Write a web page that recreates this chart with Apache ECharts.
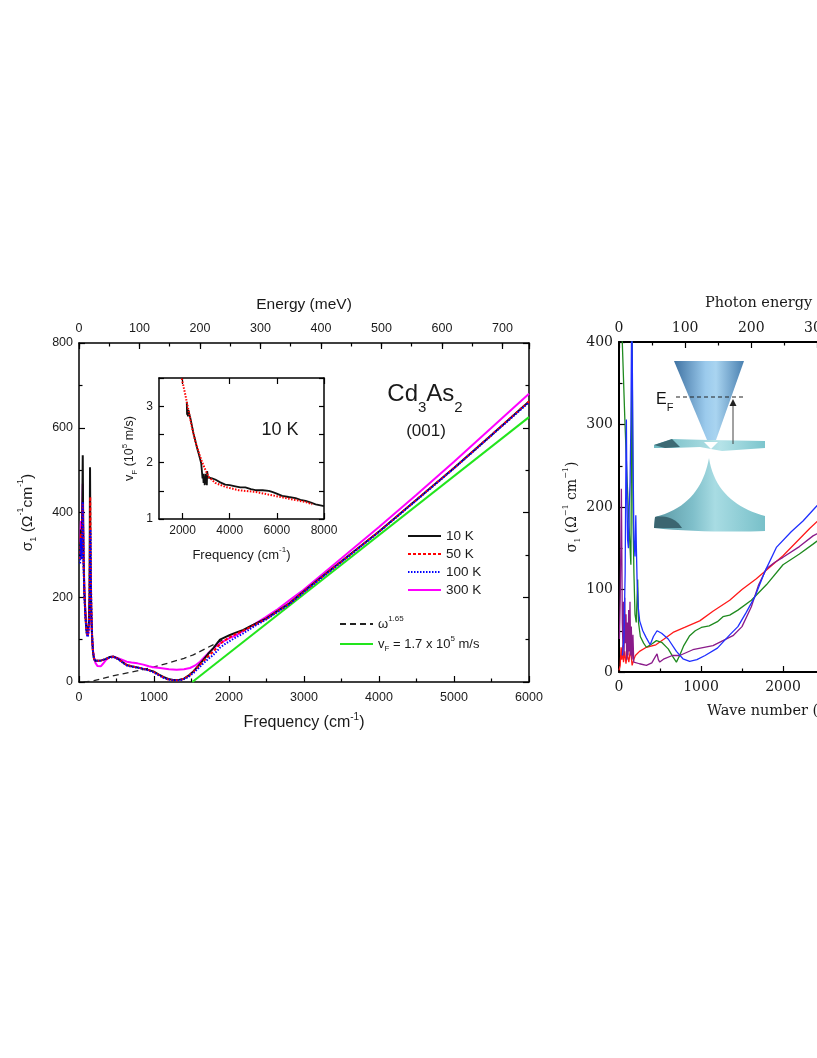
<!DOCTYPE html>
<html><head><meta charset="utf-8">
<script src="https://cdn.jsdelivr.net/npm/echarts@6/dist/echarts.min.js"></script>
<style>html,body{margin:0;padding:0;background:#fff}#c{width:817px;height:1058px}</style>
</head><body><div id="c"></div>
<script>
// ---------- Main panel: sigma_1 vs frequency (cm^-1) ----------
const t10K = [[15,300],[25,360],[35,310],[45,430],[50,535],[54,420],[60,300],[70,220],[80,180],[92,140],[105,112],[118,110],[130,135],[140,200],[147,507],[152,330],[158,220],[166,150],[176,100],[188,68],[200,55],[215,50],[250,50],[300,51],[350,54],[413,59],[460,60],[520,55],[580,47],[636,40],[700,37],[780,34],[858,31],[930,28],[991,25],[1060,18],[1124,12],[1190,7],[1258,5],[1330,5],[1391,7],[1460,15],[1524,25],[1590,38],[1658,52],[1720,66],[1791,80],[1840,91],[1880,100],[1950,106],[2013,111],[2100,117],[2191,123],[2280,131],[2369,139],[2500,150],[2636,166],[2800,185],[2991,213],[3200,243],[3500,285],[4000,355],[4500,430],[5000,505],[5500,583],[6000,662]];
const t50K = [[15,290],[25,350],[35,300],[45,380],[50,420],[55,360],[62,280],[72,210],[85,160],[98,125],[112,108],[125,115],[138,170],[145,300],[150,437],[155,300],[162,200],[172,120],[185,75],[200,56],[215,50],[250,50],[300,51],[350,54],[413,58],[460,59],[520,54],[580,47],[636,40],[700,37],[780,34],[858,31],[930,28],[991,24],[1060,17],[1124,11],[1190,6],[1258,4],[1330,4],[1391,7],[1460,14],[1524,24],[1590,36],[1658,49],[1720,60],[1791,72],[1840,81],[1880,90],[1950,99],[2013,106],[2100,114],[2191,121],[2280,129],[2369,137],[2500,149],[2636,165],[2800,184],[2991,212],[3200,242],[3500,284],[4000,355],[4500,430],[5000,505],[5500,583],[6000,662]];
const t100K = [[15,280],[25,340],[35,290],[45,370],[50,425],[55,350],[62,270],[72,200],[85,155],[98,122],[112,106],[125,112],[138,160],[147,280],[152,360],[157,260],[165,170],[175,110],[188,70],[200,55],[215,50],[250,50],[300,51],[350,54],[413,58],[460,59],[520,54],[580,46],[636,39],[700,36],[780,34],[858,31],[930,27],[991,23],[1060,16],[1124,10],[1190,6],[1258,4],[1330,4],[1391,6],[1460,12],[1524,21],[1590,32],[1658,44],[1720,54],[1791,64],[1840,73],[1880,81],[1950,90],[2013,97],[2100,106],[2191,115],[2280,125],[2369,135],[2500,148],[2636,164],[2800,183],[2991,211],[3200,241],[3500,283],[4000,354],[4500,429],[5000,504],[5500,582],[6000,660]];
const t300K = [[15,330],[25,380],[35,340],[45,420],[50,468],[55,380],[62,290],[72,220],[85,165],[98,130],[112,112],[125,118],[138,150],[146,200],[152,238],[158,190],[166,140],[176,100],[188,72],[200,58],[220,45],[245,38],[265,35],[290,37],[320,43],[360,52],[413,59],[460,60],[520,56],[580,52],[636,48],[700,46],[780,44],[858,41],[930,37],[991,35],[1080,33],[1200,30],[1302,29],[1400,30],[1480,33],[1550,39],[1613,48],[1680,60],[1747,72],[1830,85],[1924,96],[2013,104],[2102,111],[2200,122],[2324,135],[2480,152],[2636,170],[2800,192],[2991,217],[3200,248],[3500,292],[4000,366],[4500,442],[5000,520],[5500,600],[6000,680]];
const powerLaw = [[60,0],[200,3],[413,13],[600,20],[800,27],[991,35],[1200,45],[1400,56],[1524,64],[1700,80],[1880,96],[1960,104]];
const vfLine = [[1511,0],[6000,625]];

// ---------- Inset: v_F vs frequency ----------
const inset10K = [[2178,3.08],[2190,2.85],[2207,2.95],[2225,2.82],[2250,2.93],[2280,2.86],[2320,2.81],[2390,2.67],[2460,2.52],[2533,2.40],[2600,2.28],[2675,2.17],[2740,2.07],[2790,1.99],[2820,1.85],[2846,1.72],[2870,1.80],[2890,1.64],[2915,1.75],[2940,1.60],[2960,1.80],[2980,1.63],[3002,1.72],[3030,1.60],[3045,1.85],[3070,1.74],[3100,1.76],[3250,1.72],[3385,1.70],[3600,1.65],[3811,1.61],[4000,1.60],[4237,1.58],[4450,1.56],[4663,1.56],[4900,1.53],[5090,1.51],[5400,1.51],[5657,1.50],[5800,1.48],[5941,1.46],[6225,1.41],[6500,1.39],[6793,1.37],[7000,1.34],[7219,1.32],[7450,1.29],[7645,1.26],[8000,1.23]];
const insetFit = [[1966,3.49],[2108,3.22],[2250,2.93],[2391,2.64],[2533,2.39],[2675,2.20],[2817,2.02],[2960,1.88],[3101,1.75],[3385,1.64],[3811,1.57],[4379,1.51],[5090,1.48],[5800,1.42],[6509,1.36],[7219,1.30],[7503,1.26]];
const insetXTicks = [2000,4000,6000,8000];

// ---------- Right panel (cropped): sigma_1 vs wave number ----------
const rRed = [[0,2],[15,8],[25,30],[35,15],[45,32],[55,12],[70,25],[85,10],[100,22],[120,12],[140,28],[160,8],[180,15],[200,20],[250,25],[334,30],[450,33],[550,40],[659,48],[800,54],[984,62],[1150,74],[1350,87],[1500,100],[1675,113],[2000,141],[2325,174],[2500,190]];
const rBlue = [[40,20],[60,40],[75,120],[85,260],[90,306],[96,220],[105,160],[115,150],[125,200],[135,230],[145,300],[152,400],[158,430],[165,430],[172,250],[182,160],[195,140],[205,190],[212,150],[220,113],[235,78],[252,62],[290,50],[330,42],[380,33],[420,43],[464,50],[520,47],[600,40],[700,25],[780,16],[862,13],[950,15],[1050,20],[1200,29],[1350,45],[1450,55],[1550,72],[1656,91],[1780,122],[1919,151],[2100,170],[2244,183],[2400,200],[2500,210]];
const rGreen = [[15,430],[40,400],[70,310],[100,230],[130,160],[145,130],[150,220],[155,350],[160,420],[165,300],[172,180],[182,120],[195,70],[210,60],[228,112],[238,60],[260,43],[300,35],[334,30],[400,34],[456,38],[520,36],[600,28],[660,18],[700,12],[740,20],[790,32],[862,44],[930,50],[1004,54],[1100,56],[1200,61],[1268,67],[1350,69],[1450,75],[1614,87],[1800,106],[2000,130],[2200,143],[2366,155],[2500,165]];
const rPurple = [[5,40],[15,90],[22,150],[29,222],[35,140],[40,60],[48,30],[55,85],[62,20],[70,90],[78,35],[86,70],[94,15],[102,60],[110,20],[118,75],[126,25],[134,85],[142,20],[150,55],[160,15],[170,45],[180,12],[200,13],[250,10],[334,8],[400,11],[440,18],[464,22],[480,15],[497,12],[550,16],[650,20],[740,20],[900,27],[1146,32],[1390,44],[1500,55],[1614,79],[1700,105],[1797,125],[1900,133],[2000,139],[2200,152],[2366,165],[2500,172]];

const SANS = 'Liberation Sans, Arial, sans-serif';
const SERIF = 'DejaVu Serif, serif';
const CM_PER_MEV = 8.0655;
const plain = v => String(v);

function axis(o){
  const fam = o.fam || SANS;
  const a = {
    type:'value', gridIndex:o.grid, position:o.position, min:o.min, max:o.max,
    splitLine:{show:false},
    axisLine:{show:o.line!==false, onZero:false, lineStyle:{color:'#000', width:o.lw||1.5}},
    axisTick:{show:o.tick!==false, inside:true, length:o.tickLen||6, lineStyle:{color:'#000', width:1.2}},
    minorTick:{show:!!o.minor, splitNumber:2, length:3.5, lineStyle:{color:'#000', width:1.2}},
    axisLabel:{show:o.label!==false, color:'#1a1a1a', fontSize:o.fs||12, fontFamily:fam, margin:o.margin||7,
               formatter:o.formatter||plain},
    silent:true
  };
  if (o.interval!==undefined) a.interval = o.interval;
  if (o.custom) { a.axisTick.customValues = o.custom; a.axisLabel.customValues = o.custom; }
  if (o.name) {
    a.name = o.name; a.nameLocation = 'middle'; a.nameGap = o.nameGap;
    a.nameTextStyle = {fontSize:o.nfs, fontFamily:fam, color:'#1a1a1a', lineHeight:o.nfs+6,
      rich:{sup:{fontSize:Math.round(o.nfs*0.6), verticalAlign:'top', fontFamily:fam, color:'#1a1a1a'},
            sub:{fontSize:Math.round(o.nfs*0.6), verticalAlign:'bottom', fontFamily:fam, color:'#1a1a1a'}}};
  }
  return a;
}

// sample a cubic bezier into polygon points (decoration only)
function bez(p0,p1,p2,p3,n){
  const pts=[];
  for(let i=0;i<=n;i++){const t=i/n,u=1-t;
    pts.push([u*u*u*p0[0]+3*u*u*t*p1[0]+3*u*t*t*p2[0]+t*t*t*p3[0], u*u*u*p0[1]+3*u*u*t*p1[1]+3*u*t*t*p2[1]+t*t*t*p3[1]]);}
  return pts;
}
const lowerCone = [].concat(
  bez([709,458],[704,485],[690,508],[655,517],20),
  [[654,528]],
  bez([654,528],[690,532],[740,532],[765,531],12),
  [[765,516]],
  bez([765,516],[735,508],[714,490],[709,458],20)
);
const lowerLobe = [].concat(bez([655,517],[665,515],[676,518],[682,528],12),[[654,528]]);

const chart = echarts.init(document.getElementById('c'), null, {renderer:'canvas'});

const line = (name, data, xi, yi, color, width, type) => ({
  name, type:'line', data, xAxisIndex:xi, yAxisIndex:yi, symbol:'none', silent:true,
  lineStyle:{color, width, type:type||'solid'}, itemStyle:{color}, z:3
});
const LG = (stops) => new echarts.graphic.LinearGradient(0,0,1,0,stops);
const hund = v => (Math.abs(v%100)<1e-6 ? String(v) : '');

const option = {
  animation:false,
  backgroundColor:'#fff',
  textStyle:{fontFamily:SANS},
  grid:[
    {left:79, top:343, width:450, height:339, outerBoundsMode:'none', containLabel:false},
    {left:159, top:378, width:165, height:141, outerBoundsMode:'none', containLabel:false},
    {left:619, top:342, width:328, height:330, outerBoundsMode:'none', containLabel:false}
  ],
  xAxis:[
    axis({grid:0, position:'bottom', min:0, max:6000, interval:1000, minor:true, fs:12.5, margin:9,
          name:'Frequency (cm{sup|-1})', nameGap:30, nfs:16}),
    axis({grid:0, position:'top', min:0, max:6000/CM_PER_MEV, interval:100, fs:12.5, margin:8, formatter:hund,
          name:'Energy (meV)', nameGap:28, nfs:15.5}),
    axis({grid:0, position:'top', min:0, max:6000/CM_PER_MEV, interval:50, tickLen:3.5, label:false, line:false}),
    axis({grid:1, position:'bottom', min:1000, max:8000, custom:insetXTicks, fs:12, margin:6, lw:1.5,
          name:'Frequency (cm{sup|-1})', nameGap:27, nfs:13}),
    axis({grid:1, position:'top', min:1000, max:8000, custom:insetXTicks, label:false, lw:1.5}),
    axis({grid:2, position:'bottom', min:0, max:4000, interval:1000, minor:true, fam:SERIF, fs:14, margin:8, lw:2,
          name:'Wave number (cm{sup|−1})', nameGap:29, nfs:14.5}),
    axis({grid:2, position:'top', min:0, max:4000/CM_PER_MEV, interval:100, minor:true, fam:SERIF, fs:14, margin:7, lw:2,
          formatter:hund, name:'Photon energy (meV)', nameGap:29, nfs:14.5})
  ],
  yAxis:[
    axis({grid:0, position:'left', min:0, max:800, interval:200, minor:true, fs:12.5, margin:6,
          name:'σ{sub|1} (Ω{sup|-1}cm{sup|-1})', nameGap:41, nfs:15.5}),
    axis({grid:0, position:'right', min:0, max:800, interval:200, minor:true, label:false}),
    axis({grid:1, position:'left', min:1, max:3.5, interval:0.5, tickLen:5, fs:12, margin:6,
          formatter:v => (Number.isInteger(v) ? String(v) : ''),
          name:'v{sub|F} (10{sup|5} m/s)', nameGap:20, nfs:12.5}),
    axis({grid:1, position:'right', min:1, max:3.5, interval:0.5, tickLen:5, label:false}),
    axis({grid:2, position:'left', min:0, max:400, interval:100, minor:true, fam:SERIF, fs:14, margin:6, lw:2,
          name:'σ{sub|1} (Ω{sup|−1} cm{sup|−1})', nameGap:36, nfs:14})
  ],
  legend:[
    {data:['10 K','50 K','100 K','300 K'], orient:'vertical', left:407, top:529, padding:0, itemWidth:33, itemHeight:10, itemGap:4,
     selectedMode:false, itemStyle:{opacity:0, borderWidth:0},
     textStyle:{fontSize:13.5, color:'#1a1a1a', fontFamily:SANS}},
    {data:['omega','vF'], orient:'vertical', left:339, top:615, padding:0, itemWidth:33, itemHeight:10, itemGap:2,
     selectedMode:false, itemStyle:{opacity:0, borderWidth:0},
     formatter: n => n==='omega' ? '{t|ω}{sup|1.65}' : '{t|v}{sub|F}{t| = 1.7 x 10}{sup|5}{t| m/s}',
     textStyle:{fontSize:13, color:'#1a1a1a', fontFamily:SANS, lineHeight:18,
       rich:{t:{fontSize:13, color:'#1a1a1a', fontFamily:SANS, lineHeight:18},
             sup:{fontSize:8, verticalAlign:'top', color:'#1a1a1a', fontFamily:SANS},
             sub:{fontSize:8, verticalAlign:'bottom', color:'#1a1a1a', fontFamily:SANS}}}}
  ],
  series:[
    line('omega', powerLaw, 0, 0, '#222', 1.3, [6,4]),
    line('vF', vfLine, 0, 0, '#22e51c', 2),
    line('300 K', t300K, 0, 0, '#ff00ff', 2),
    line('10 K', t10K, 0, 0, '#111', 2),
    line('50 K', t50K, 0, 0, '#ff0000', 2, [3,2]),
    line('100 K', t100K, 0, 0, '#0000ff', 2, [1.5,1.5]),
    line('inset10K', inset10K, 3, 2, '#111', 1.8),
    line('insetFit', insetFit, 3, 2, '#ff0000', 2, [1.5,1.5]),
    line('rRed', rRed, 5, 4, '#ff1a1a', 1.3),
    line('rGreen', rGreen, 5, 4, '#1f8a1f', 1.3),
    line('rPurple', rPurple, 5, 4, '#8a1a8a', 1.3),
    line('rBlue', rBlue, 5, 4, '#1f2fff', 1.3)
  ],
  graphic:[
    {type:'text', x:425, y:394, z:10, silent:true,
     style:{text:'Cd{s|3}As{s|2}', fontSize:24, fontFamily:SANS, fill:'#1a1a1a', lineHeight:42,
            align:'center', verticalAlign:'middle',
            rich:{s:{fontSize:15, verticalAlign:'bottom', fontFamily:SANS, fill:'#1a1a1a'}}}},
    {type:'text', x:426, y:431, z:10, silent:true,
     style:{text:'(001)', fontSize:17, fontFamily:SANS, fill:'#1a1a1a', align:'center', verticalAlign:'middle'}},
    {type:'text', x:280, y:430, z:10, silent:true,
     style:{text:'10 K', fontSize:18, fontFamily:SANS, fill:'#1a1a1a', align:'center', verticalAlign:'middle'}},
    // Dirac cone sketch (right inset)
    {type:'polygon', z:5, silent:true, shape:{points:[[674,361],[744,361],[716,440],[707,440]]},
     style:{fill:LG([{offset:0,color:'#3f72a2'},{offset:0.45,color:'#9bcaec'},{offset:0.6,color:'#a9d4f0'},{offset:1,color:'#4a80b0'}])}},
    {type:'polygon', z:5, silent:true, shape:{points:[[654,445],[672,439],[708,440],[765,441],[765,448],[722,451],[700,447],[672,448],[654,448]]},
     style:{fill:LG([{offset:0,color:'#6fb9c2'},{offset:0.6,color:'#b5e3e8'},{offset:1,color:'#7cc5cd'}])}},
    {type:'polygon', z:6, silent:true, shape:{points:[[654,445],[672,439],[680,447],[665,448]]}, style:{fill:'#3c6a74'}},
    {type:'polygon', z:6, silent:true, shape:{points:[[704,442],[718,442],[711,449]]}, style:{fill:'#ffffff'}},
    {type:'polygon', z:5, silent:true, shape:{points:lowerCone},
     style:{fill:LG([{offset:0,color:'#5a97a3'},{offset:0.35,color:'#7fbfca'},{offset:0.55,color:'#a8dce3'},{offset:1,color:'#78c0c9'}])}},
    {type:'polygon', z:6, silent:true, shape:{points:lowerLobe}, style:{fill:'#3b6570'}},
    {type:'line', z:7, silent:true, shape:{x1:676, y1:397, x2:743, y2:397}, style:{stroke:'#222', lineWidth:1.2, lineDash:[4,3]}},
    {type:'line', z:7, silent:true, shape:{x1:733, y1:444, x2:733, y2:405}, style:{stroke:'#444', lineWidth:1}},
    {type:'polygon', z:7, silent:true, shape:{points:[[729.5,406],[736.5,406],[733,399]]}, style:{fill:'#222'}},
    {type:'text', x:656, y:400, z:7, silent:true,
     style:{text:'E{f|F}', fontSize:16, fontFamily:SANS, fill:'#111', lineHeight:26, verticalAlign:'middle',
            rich:{f:{fontSize:11, verticalAlign:'bottom', fontFamily:SANS, fill:'#111'}}}}
  ]
};
chart.setOption(option);
</script>
</body></html>
